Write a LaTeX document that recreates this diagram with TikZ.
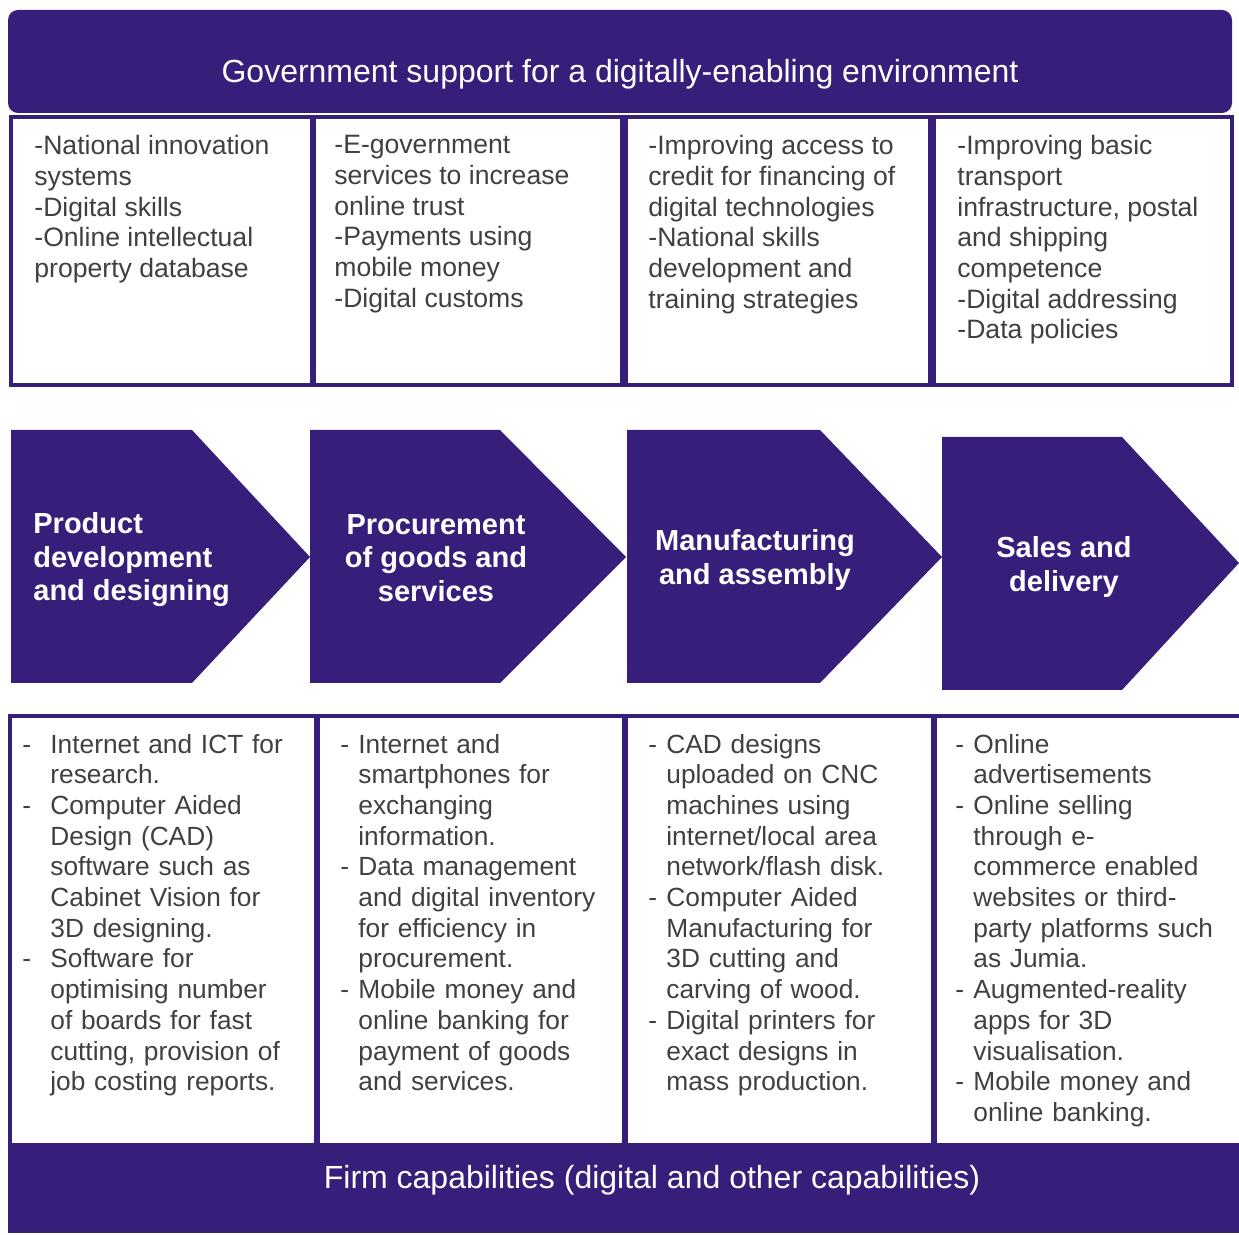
\documentclass[tikz,border=0pt]{standalone}
\usepackage{fontspec}
\setmainfont{Liberation Sans}
\definecolor{gvpurple}{RGB}{55,30,123}
\definecolor{gvgrey}{RGB}{64,64,64}
% one dash item with hanging indent
\newcommand\dashitem[2][9pt]{\par\hangindent=#1\hangafter=1\noindent\makebox[#1][l]{-}#2}

\begin{document}
\begin{tikzpicture}[x=0.5pt, y=-0.5pt,
  bar/.style={fill=gvpurple},
  cell/.style={draw=gvpurple, line width=2.4pt},
  bartext/.style={text=white, inner sep=0pt, font=\fontsize{16}{19}\selectfont},
  note/.style={anchor=north west, inner sep=0pt, text=gvgrey, align=left, font=\fontsize{13.3}{15.35}\selectfont},
  list/.style={note, text width=150pt, font=\fontsize{13.15}{15.35}\selectfont},
  stage/.style={text=white, inner sep=0pt, font=\bfseries\fontsize{14.5}{16.75}\selectfont}]
  \useasboundingbox (0,0) rectangle (1239,1235);

  % government layer
  \fill[bar, rounded corners=5pt] (8,10) rectangle (1232,113);
  \node[bartext] (gov) at (620,74) {Government support for a digitally-enabling environment};
  \draw[cell] (11,117) rectangle (312,385);
  \draw[cell] (314,117) rectangle (622,385);
  \draw[cell] (626,117) rectangle (930,385);
  \draw[cell] (934,117) rectangle (1232,385);
  \node[note] (g1) at (34,135) {-National innovation\\systems\\-Digital skills\\-Online intellectual\\property database};
  \node[note] (g2) at (334,135) {-E-government\\services to increase\\online trust\\-Payments using\\mobile money\\-Digital customs};
  \node[note] (g3) at (648,135) {-Improving access to\\credit for financing of\\digital technologies\\-National skills\\development and\\training strategies};
  \node[note] (g4) at (957,135) {-Improving basic\\transport\\infrastructure, postal\\and shipping\\competence\\-Digital addressing\\-Data policies};

  % value chain
  \fill[bar] (11,430) -- (192,430) -- (310,557) -- (192,683) -- (11,683) -- cycle;
  \fill[bar] (310,430) -- (500,430) -- (626,557) -- (500,683) -- (310,683) -- cycle;
  \fill[bar] (627,430) -- (820,430) -- (942,557) -- (820,683) -- (627,683) -- cycle;
  \fill[bar] (942,437) -- (1122,437) -- (1239,563) -- (1122,690) -- (942,690) -- cycle;
  \node[stage, align=left, anchor=west] (s1) at (33,560) {Product\\development\\and designing};
  \node[stage, align=center] (s2) at (436,558) {Procurement\\of goods and\\services};
  \node[stage, align=center] (s3) at (755,560) {Manufacturing\\and assembly};
  \node[stage, align=center] (s4) at (1064,567) {Sales and\\delivery};

  % firm layer
  \draw[cell] (10,716) rectangle (316,1145);
  \draw[cell] (318,716) rectangle (624,1145);
  \draw[cell] (626,716) rectangle (933,1145);
  \draw[cell] (935,716) rectangle (1250,1145);
  \fill[bar] (8,1145) rectangle (1239,1233);
  \node[bartext] (firm) at (652,1180) {Firm capabilities (digital and other capabilities)};
  \node[list] (f1) at (22,722) {%
    \dashitem[14pt]{Internet and ICT for\newline research.}
    \dashitem[14pt]{Computer Aided\newline Design (CAD)\newline software such as\newline Cabinet Vision for\newline 3D designing.}
    \dashitem[14pt]{Software for\newline optimising number\newline of boards for fast\newline cutting, provision of\newline job costing reports.}\par};
  \node[list] (f2) at (340,722) {%
    \dashitem{Internet and\newline smartphones for\newline exchanging\newline information.}
    \dashitem{Data management\newline and digital inventory\newline for efficiency in\newline procurement.}
    \dashitem{Mobile money and\newline online banking for\newline payment of goods\newline and services.}\par};
  \node[list] (f3) at (648,722) {%
    \dashitem{CAD designs\newline uploaded on CNC\newline machines using\newline internet/local area\newline network/flash disk.}
    \dashitem{Computer Aided\newline Manufacturing for\newline 3D cutting and\newline carving of wood.}
    \dashitem{Digital printers for\newline exact designs in\newline mass production.}\par};
  \node[list] (f4) at (955,722) {%
    \dashitem{Online\newline advertisements}
    \dashitem{Online selling\newline through e-\newline commerce enabled\newline websites or third-\newline party platforms such\newline as Jumia.}
    \dashitem{Augmented-reality\newline apps for 3D\newline visualisation.}
    \dashitem{Mobile money and\newline online banking.}\par};
\end{tikzpicture}
\end{document}
